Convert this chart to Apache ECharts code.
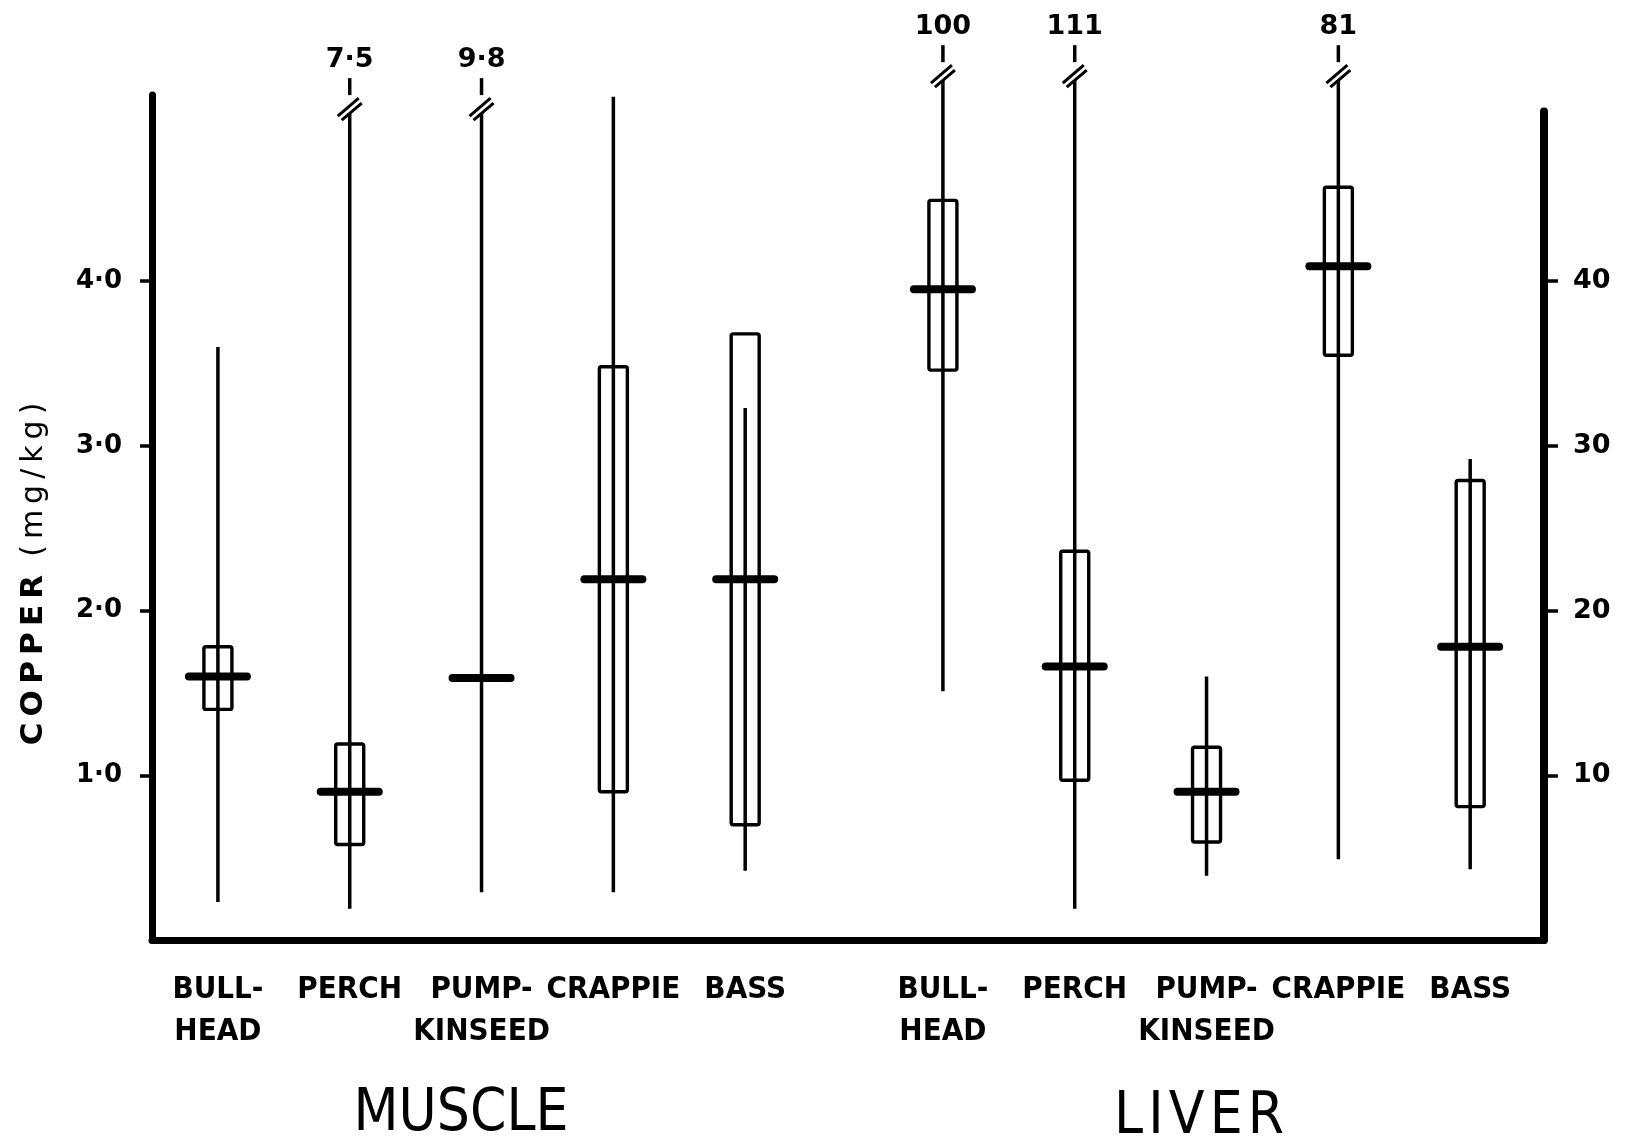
<!DOCTYPE html>
<html>
<head>
<meta charset="utf-8">
<script src="https://cdn.jsdelivr.net/npm/echarts@6/dist/echarts.min.js"></script>
<style>
  html, body { margin: 0; padding: 0; background: #fff; }
  #chart { width: 1626px; height: 1142px; }
</style>
</head>
<body>
<div id="chart"></div>
<script>
// Fish species (same order in both tissues)
const fishNames = ['BULL-\nHEAD', 'PERCH', 'PUMP-\nKINSEED', 'CRAPPIE', 'BASS'];
const tissueNames = ['MUSCLE', 'LIVER'];

// Muscle copper, mg/kg (left scale): range, quartile box and median
const muscleMin    = [0.23, 0.19, 0.29, 0.29, 0.42];
const muscleQ1     = [1.40, 0.58, 1.59, 0.90, 0.70];
const muscleMedian = [1.60, 0.90, 1.59, 2.19, 2.19];
const muscleQ3     = [1.78, 1.19, 1.59, 3.48, 3.68];
const muscleMax    = [3.60, 7.5, 9.8, 5.12, 3.23];

// Liver copper, mg/kg (right scale)
const liverMin    = [15.1, 1.9, 3.9, 4.9, 4.3];
const liverQ1     = [34.6, 9.7, 5.95, 35.5, 8.1];
const liverMedian = [39.5, 16.6, 9.0, 40.9, 17.8];
const liverQ3     = [44.9, 23.6, 11.7, 45.7, 27.9];
const liverMax    = [100, 111, 16.0, 81, 29.2];

// Tick values
const muscleTicks = [1, 2, 3, 4];
const liverTicks  = [10, 20, 30, 40];

// Scale extents (liver scale is ten times the muscle scale)
const MUSCLE_TOP = 5.13;
const LIVER_TOP = 51.3;
const LIVER_AXIS_END = 50.3;     // right-hand axis stops a little lower
const MUSCLE_BREAK = 5.02;       // where an off-scale whisker is cut
const LIVER_BREAK = 52.2;
const LIVER_OFFSET = 5.5;        // x position of first liver species

const INK = '#000';
const numFont = '"DejaVu Sans", sans-serif';
const capFont = '"DejaVu Sans Condensed", "DejaVu Sans", sans-serif';

function decimalDot(v) {
  return Number.isInteger(v) ? String(v) : String(v).replace('.', '\u00B7');
}

function buildRows(offset, mins, q1s, meds, q3s, maxs) {
  return fishNames.map((_, i) => [i + offset, mins[i], q1s[i], meds[i], q3s[i], maxs[i]]);
}

function boxRenderer(scaleTop, breakAt) {
  return function (params, api) {
    const i = params.dataIndex;
    const x = api.value(0);
    const lo = api.value(1), q1 = api.value(2), med = api.value(3), q3 = api.value(4), hi = api.value(5);
    const broken = hi > scaleTop;
    const pLo = api.coord([x, lo]);
    const pTop = api.coord([x, broken ? breakAt : hi]);
    const pQ1 = api.coord([x, q1]);
    const pQ3 = api.coord([x, q3]);
    const pMed = api.coord([x, med]);
    const pBase = api.coord([x, 0]);
    const cx = pLo[0];
    const thin = { stroke: INK, lineWidth: 3.5, fill: null };
    const kids = [];
    if (q3 > q1) {
      kids.push({ type: 'rect',
        shape: { x: cx - 14, y: pQ3[1], width: 28, height: pQ1[1] - pQ3[1], r: 2 },
        style: { fill: null, stroke: INK, lineWidth: 3.4 } });
    }
    kids.push({ type: 'line', shape: { x1: cx, y1: pLo[1], x2: cx, y2: pTop[1] }, style: thin });
    kids.push({ type: 'line',
      shape: { x1: cx - 29, y1: pMed[1], x2: cx + 29, y2: pMed[1] },
      style: { stroke: INK, lineWidth: 8, lineCap: 'round' } });
    if (broken) {
      const t = pTop[1];
      kids.push({ type: 'line', shape: { x1: cx - 12, y1: t + 3, x2: cx + 9, y2: t - 15 }, style: { stroke: INK, lineWidth: 3 } });
      kids.push({ type: 'line', shape: { x1: cx - 8, y1: t + 7, x2: cx + 12, y2: t - 10 }, style: { stroke: INK, lineWidth: 3 } });
      kids.push({ type: 'line', shape: { x1: cx, y1: t - 35, x2: cx, y2: t - 18 }, style: thin });
      kids.push({ type: 'text', style: {
        text: decimalDot(hi), x: cx, y: t - 40, align: 'center', verticalAlign: 'bottom',
        font: 'bold 27px ' + numFont, fill: INK } });
    }
    kids.push({ type: 'text', style: {
      text: fishNames[i], x: cx, y: pBase[1] + 29, align: 'center', verticalAlign: 'top',
      lineHeight: 42, font: 'bold 31px ' + capFont, fill: INK } });
    return { type: 'group', children: kids };
  };
}

const chart = echarts.init(document.getElementById('chart'), null, { renderer: 'canvas' });

chart.setOption({
  backgroundColor: '#fff',
  animation: false,
  grid: { left: 152, right: 82, top: 95, bottom: 202, outerBoundsMode: 'none' },
  xAxis: {
    type: 'value', min: -0.5, max: 10.06,
    axisLine: { show: true, onZero: false, lineStyle: { color: INK, width: 7, cap: 'round' } },
    axisTick: { show: false }, axisLabel: { show: false }, splitLine: { show: false }
  },
  yAxis: [
    {
      type: 'value', min: 0, max: MUSCLE_TOP, position: 'left',
      axisLine: { show: true, onZero: false, lineStyle: { color: INK, width: 7, cap: 'round' } },
      axisTick: { show: true, customValues: muscleTicks, length: 12, lineStyle: { color: INK, width: 3.5 } },
      axisLabel: { show: true, customValues: muscleTicks, margin: 30, color: INK,
        fontFamily: numFont, fontWeight: 'bold', fontSize: 26,
        formatter: v => v.toFixed(1).replace('.', '\u00B7') },
      splitLine: { show: false }
    },
    {
      type: 'value', min: 0, max: LIVER_TOP, position: 'right',
      axisLine: { show: false, onZero: false },
      axisTick: { show: true, customValues: liverTicks, length: 14, lineStyle: { color: INK, width: 3.5 } },
      axisLabel: { show: true, customValues: liverTicks, margin: 29, color: INK,
        fontFamily: numFont, fontWeight: 'bold', fontSize: 27,
        formatter: v => String(v) },
      splitLine: { show: false }
    }
  ],
  series: [
    {
      name: tissueNames[0], type: 'custom', yAxisIndex: 0, clip: false,
      renderItem: boxRenderer(MUSCLE_TOP, MUSCLE_BREAK),
      data: buildRows(0, muscleMin, muscleQ1, muscleMedian, muscleQ3, muscleMax)
    },
    {
      name: tissueNames[1], type: 'custom', yAxisIndex: 1, clip: false,
      renderItem: boxRenderer(LIVER_TOP, LIVER_BREAK),
      data: buildRows(LIVER_OFFSET, liverMin, liverQ1, liverMedian, liverQ3, liverMax)
    },
    {
      // right-hand axis line, shorter than the plotting area
      name: 'liver-axis', type: 'custom', yAxisIndex: 1, clip: false, silent: true,
      renderItem: function (params, api) {
        const cs = params.coordSys;
        const xr = cs.x + cs.width;
        const top = api.coord([0, LIVER_AXIS_END])[1];
        return { type: 'line', shape: { x1: xr, y1: cs.y + cs.height, x2: xr, y2: top },
          style: { stroke: INK, lineWidth: 8, lineCap: 'round' } };
      },
      data: [[0]]
    }
  ],
  graphic: [
    {
      type: 'text', x: 34, y: 574, rotation: Math.PI / 2,
      style: {
        text: '{a|C\u2009O\u2009P\u2009P\u2009E\u2009R}{gap|}{b|(\u2009m\u2009g\u2009/\u2009k\u2009g\u2009)}',
        align: 'center', verticalAlign: 'middle', fill: INK,
        rich: {
          a: { font: 'bold 31px ' + numFont, fill: INK },
          gap: { width: 18 },
          b: { font: '30px ' + numFont, fill: INK }
        }
      }
    },
    {
      type: 'text', x: 461, y: 1115,
      style: { text: tissueNames[0], align: 'center', verticalAlign: 'middle',
        font: '58px ' + capFont, fill: INK }
    },
    {
      type: 'text', x: 1199, y: 1118,
      style: { text: tissueNames[1].split('').join('\u200A'), align: 'center', verticalAlign: 'middle',
        font: '58px ' + capFont, fill: INK }
    }
  ]
});
</script>
</body>
</html>
